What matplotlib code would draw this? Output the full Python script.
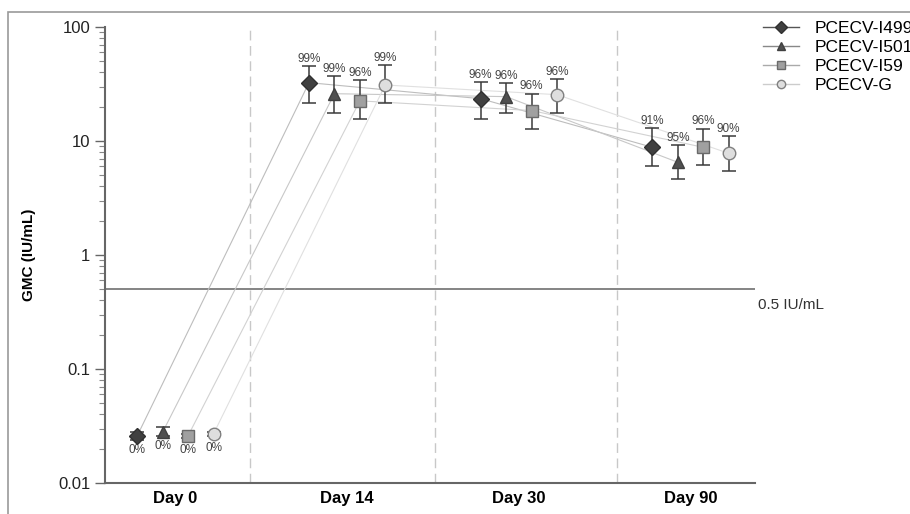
import numpy as np
import matplotlib.pyplot as plt
from matplotlib.lines import Line2D
from matplotlib.patches import Rectangle

plt.rcParams['font.family'] = ['Liberation Sans', 'DejaVu Sans']

days = ["Day 0", "Day 14", "Day 30", "Day 90"]
series = ["PCECV-I499", "PCECV-I501", "PCECV-I59", "PCECV-G"]

gmc = {
    "PCECV-I499": [0.026, 32.5, 23.5, 8.8],
    "PCECV-I501": [0.028, 26.0, 24.5, 6.5],
    "PCECV-I59":  [0.026, 22.5, 18.5, 8.8],
    "PCECV-G":    [0.027, 31.0, 25.5, 7.8],
}
ci_low = {
    "PCECV-I499": [0.024, 21.5, 15.6, 6.0],
    "PCECV-I501": [0.026, 17.6, 17.6, 4.6],
    "PCECV-I59":  [0.025, 15.6, 12.8, 6.2],
    "PCECV-G":    [0.026, 21.5, 17.6, 5.5],
}
ci_high = {
    "PCECV-I499": [0.028, 45.5, 33.0, 13.0],
    "PCECV-I501": [0.031, 37.0, 32.0, 9.2],
    "PCECV-I59":  [0.027, 34.0, 26.0, 12.8],
    "PCECV-G":    [0.028, 46.0, 35.0, 11.0],
}
seroconv = {
    "PCECV-I499": ["0%", "99%", "96%", "91%"],
    "PCECV-I501": ["0%", "99%", "96%", "95%"],
    "PCECV-I59":  ["0%", "96%", "96%", "96%"],
    "PCECV-G":    ["0%", "99%", "96%", "90%"],
}
threshold = 0.5

markers = ['D', '^', 's', 'o']
msizes = [8, 8, 8, 9]
face = ['#404040', '#505050', '#a0a0a0', '#dedede']
edge = ['#303030', '#404040', '#6a6a6a', '#808080']
linecol = ['#bdbdbd', '#c8c8c8', '#d2d2d2', '#e0e0e0']
legline = ['#555555', '#888888', '#aaaaaa', '#cccccc']
offsets = [-0.222, -0.074, 0.074, 0.222]

fig = plt.figure(figsize=(9.1, 5.14), dpi=100)
ax = fig.add_axes([105/910, 1-483/514, 650/910, 456/514])

# outer frame of the picture
fig.patches.append(Rectangle((8/910, -0.1), 1.2, 1-12/514+0.1, transform=fig.transFigure,
                             fill=False, edgecolor='#9a9a9a', lw=1.2))

x = np.arange(len(days))
for i, s in enumerate(series):
    xs = x + offsets[i]
    y = np.array(gmc[s])
    lo = y - np.array(ci_low[s])
    hi = np.array(ci_high[s]) - y
    ax.plot(xs, y, color=linecol[i], lw=0.8, zorder=2)
    ax.errorbar(xs, y, yerr=[lo, hi], fmt='none', ecolor='#3a3a3a', elinewidth=1.1,
                capsize=5, capthick=1.1, zorder=3)
    ax.plot(xs, y, linestyle='none', marker=markers[i], markersize=msizes[i],
            markerfacecolor=face[i], markeredgecolor=edge[i], markeredgewidth=1, zorder=4)
    for j in range(len(days)):
        if j == 0:
            ax.annotate(seroconv[s][j], (xs[j], gmc[s][j]), xytext=(0, -6),
                        textcoords='offset points', ha='center', va='top',
                        fontsize=8.5, color='#444444')
        else:
            ax.annotate(seroconv[s][j], (xs[j], ci_high[s][j]), xytext=(0, 1),
                        textcoords='offset points', ha='center', va='bottom',
                        fontsize=8.5, color='#444444')

ax.axhline(threshold, color='#707070', lw=1.2, zorder=1)
ax.annotate("0.5 IU/mL", (1.0, threshold), xycoords=('axes fraction', 'data'),
            xytext=(2, -6), textcoords='offset points', ha='left', va='top',
            fontsize=11, color='#333333', annotation_clip=False)

for sep in [0.434, 1.511, 2.571]:
    ax.axvline(sep, color='#c8c8c8', lw=1, ls=(0, (7, 4)), zorder=0)

ax.set_yscale('log')
ax.set_ylim(0.01, 100)
ax.set_xlim(-0.41, 3.375)
ax.set_yticks([0.01, 0.1, 1, 10, 100])
ax.set_yticklabels(["0.01", "0.1", "1", "10", "100"])
ax.set_xticks(x)
ax.set_xticklabels(days, fontweight='bold', fontsize=12)
ax.tick_params(axis='x', length=0, pad=6)
ax.tick_params(axis='y', which='major', length=7, width=1, color='#666666', labelsize=12,
               labelcolor='#222222')
ax.tick_params(axis='y', which='minor', length=4, width=0.8, color='#888888')
ax.set_ylabel("GMC (IU/mL)", fontweight='bold', fontsize=11, labelpad=16)

for sp in ['top', 'right']:
    ax.spines[sp].set_visible(False)
for sp in ['left', 'bottom']:
    ax.spines[sp].set_color('#666666')
    ax.spines[sp].set_linewidth(1.5)

handles = [Line2D([0], [0], color=legline[i], lw=1, marker=markers[i], markersize=6,
                  markerfacecolor=face[i], markeredgecolor=edge[i]) for i in range(4)]
fig.legend(handles, series, loc='upper left', bbox_to_anchor=(763/910, 1-21/514),
           frameon=False, fontsize=12.5, handlelength=2.1, labelspacing=0.22,
           handletextpad=0.85, borderpad=0, borderaxespad=0)

fig.savefig("out.png", dpi=100)
